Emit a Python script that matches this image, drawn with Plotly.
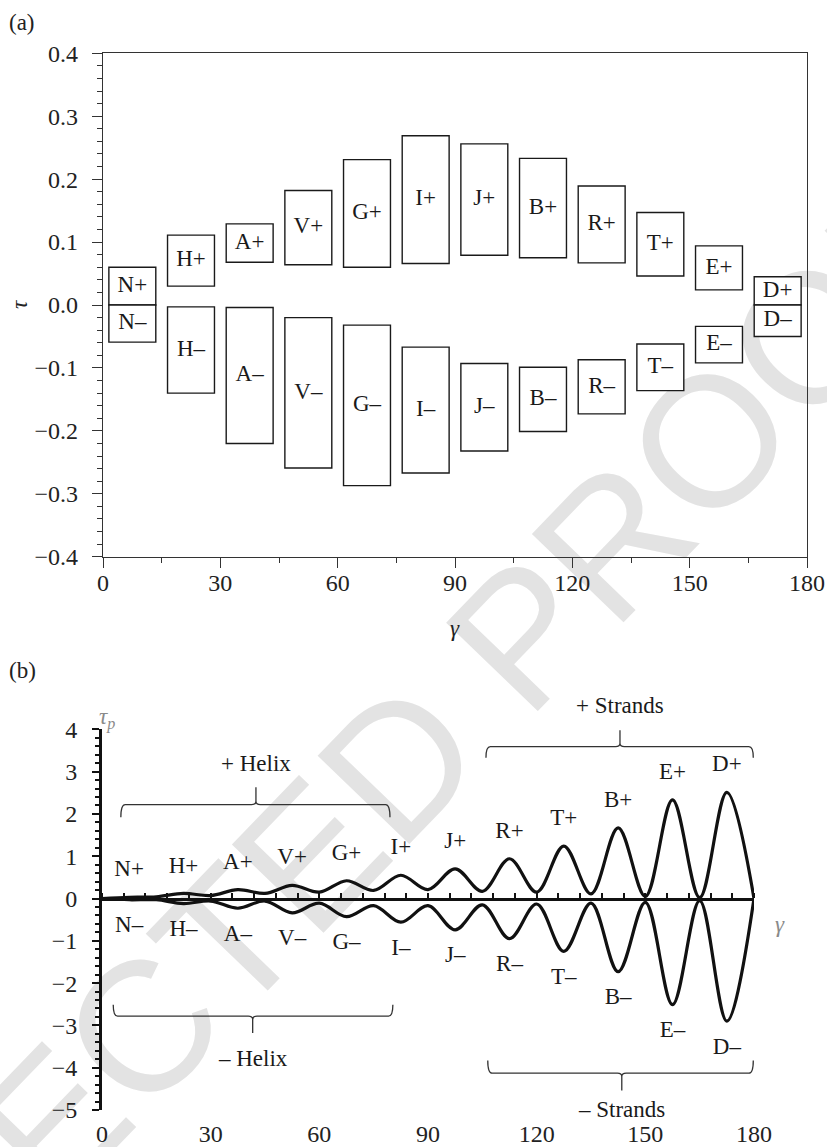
import plotly.graph_objects as go

W, H = 827, 1147

# ---------------- panel (a): tau ranges of each residue, + and - branches
residues = ["N", "H", "A", "V", "G", "I", "J", "B", "R", "T", "E", "D"]
gamma_centre = [7.5, 22.5, 37.5, 52.5, 67.5, 82.5, 97.5, 112.5, 127.5, 142.5, 157.5, 172.5]
plus_top = [0.060, 0.111, 0.129, 0.182, 0.231, 0.269, 0.256, 0.233, 0.189, 0.147, 0.094, 0.045]
plus_bottom = [0.000, 0.030, 0.068, 0.064, 0.060, 0.066, 0.079, 0.075, 0.067, 0.046, 0.024, 0.000]
minus_top = [0.000, -0.003, -0.004, -0.020, -0.032, -0.067, -0.093, -0.099, -0.087, -0.062, -0.034, 0.000]
minus_bottom = [-0.059, -0.140, -0.220, -0.259, -0.287, -0.267, -0.232, -0.201, -0.173, -0.136, -0.092, -0.050]
box_width = 12

# ---------------- panel (b): tau_p along gamma for + and - branches
residues_b = ["N", "H", "A", "V", "G", "I", "J", "R", "T", "B", "E", "D"]
gamma_b = [0, 7.5, 15, 22.5, 30, 37.5, 45, 52.5, 60, 67.5, 75, 82.5, 90,
           97.5, 105, 112.5, 120, 127.5, 135, 142.5, 150, 157.5, 165, 172.5, 180]
tau_p_plus = [0, 0.03, 0.04, 0.12, 0.07, 0.21, 0.12, 0.31, 0.15, 0.42, 0.19, 0.55, 0.21,
              0.70, 0.17, 0.94, 0.15, 1.24, 0.11, 1.67, 0.05, 2.33, 0.02, 2.51, 0.0]
tau_p_minus = [0, -0.03, -0.03, -0.12, -0.06, -0.23, -0.06, -0.34, -0.11, -0.43, -0.17, -0.56, -0.17,
               -0.74, -0.15, -0.95, -0.13, -1.25, -0.11, -1.73, -0.09, -2.51, -0.05, -2.90, 0.0]
label_gap = 0.63

SERIF = "Liberation Serif, Times New Roman, serif"
INK = "#1a1a1a"
FS = 23
TICK_FS = 24


def paper_x(p):
    return p / W


def paper_y(p):
    return 1 - p / H


# subplot placement (pixels)
A_X0, A_X1, A_Y0, A_Y1 = 103, 807, 53.3, 556.7
B_X0, B_X1, B_Y0, B_Y1 = 102, 754, 729.3, 1110
B_RANGE = [-5, 4]

fig = go.Figure()

# boxes of panel (a)
for tops, bots in ((plus_top, plus_bottom), (minus_top, minus_bottom)):
    fig.add_trace(go.Bar(
        x=gamma_centre, y=[t - b for t, b in zip(tops, bots)], base=bots, width=box_width,
        marker=dict(color="white", line=dict(color=INK, width=1.4)),
        xaxis="x", yaxis="y", hoverinfo="skip", showlegend=False))

mid_plus = [(t + b) / 2 for t, b in zip(plus_top, plus_bottom)]
mid_minus = [(t + b) / 2 for t, b in zip(minus_top, minus_bottom)]
fig.add_trace(go.Scatter(
    x=gamma_centre + gamma_centre, y=mid_plus + mid_minus,
    text=[r + "+" for r in residues] + [r + "–" for r in residues],
    mode="text", textfont=dict(family=SERIF, size=FS, color=INK),
    xaxis="x", yaxis="y", hoverinfo="skip", showlegend=False))

# curves of panel (b)
for ys in (tau_p_plus, tau_p_minus):
    fig.add_trace(go.Scatter(
        x=gamma_b, y=ys, mode="lines",
        line=dict(color="#111111", width=3.2, shape="spline"),
        xaxis="x2", yaxis="y2", hoverinfo="skip", showlegend=False))

peak_x = gamma_b[1::2]
fig.add_trace(go.Scatter(
    x=peak_x + peak_x,
    y=[v + label_gap for v in tau_p_plus[1::2]] + [v - label_gap for v in tau_p_minus[1::2]],
    text=[r + "+" for r in residues_b] + [r + "–" for r in residues_b],
    mode="text", textfont=dict(family=SERIF, size=FS, color=INK), cliponaxis=False,
    xaxis="x2", yaxis="y2", hoverinfo="skip", showlegend=False))

# invisible anchor for the zero-line axis
fig.add_trace(go.Scatter(x=[90], y=[0], mode="lines", line=dict(width=0),
                         xaxis="x3", yaxis="y2", hoverinfo="skip", showlegend=False))


def brace(x0, x1, xm, y_line, y_end, y_tip, rx=1.2, ry=0.08):
    up = 1 if y_tip > y_line else -1
    return (f"M {x0},{y_end} Q {x0},{y_line} {x0 + rx},{y_line} "
            f"L {xm - rx},{y_line} Q {xm},{y_line} {xm},{y_line + up * ry} L {xm},{y_tip} "
            f"L {xm},{y_line + up * ry} Q {xm},{y_line} {xm + rx},{y_line} "
            f"L {x1 - rx},{y_line} Q {x1},{y_line} {x1},{y_end}")


braces = [
    ("+ Helix", 5.2, 79.5, 42.5, 2.22, 1.92, 2.63, 3.18),
    ("+ Strands", 106.0, 179.8, 143.0, 3.59, 3.33, 3.98, 4.56),
    ("– Helix", 3.1, 80.3, 41.6, -2.78, -2.51, -3.18, -3.79),
    ("– Strands", 106.5, 179.8, 143.5, -4.13, -3.83, -4.54, -4.98),
]
for name, x0, x1, xm, yl, ye, yt, ytext in braces:
    fig.add_shape(type="path", xref="x2", yref="y2", path=brace(x0, x1, xm, yl, ye, yt),
                  line=dict(color="#333333", width=1.3))

# brace captions, placed through the panel (b) axis scales
bx_scale = (B_X1 - B_X0) / 180.0
by_scale = (B_Y1 - B_Y0) / (B_RANGE[1] - B_RANGE[0])
for name, x0, x1, xm, yl, ye, yt, ytext in braces:
    px = B_X0 + xm * bx_scale
    py = B_Y0 + (B_RANGE[1] - ytext) * by_scale
    fig.add_annotation(text=name, x=paper_x(px), y=paper_y(py), xref="paper", yref="paper",
                       showarrow=False, xanchor="center", yanchor="middle",
                       font=dict(family=SERIF, size=FS, color=INK))

# watermark behind everything
WM_X, WM_Y = 222, 920
fig.add_shape(type="rect", xref="paper", yref="paper",
              x0=paper_x(WM_X - 5), x1=paper_x(WM_X + 5), y0=paper_y(WM_Y + 5), y1=paper_y(WM_Y - 5),
              line=dict(width=0), fillcolor="rgba(0,0,0,0)", layer="below",
              label=dict(text="UNCORRECTED PROOFS", textangle=-46, textposition="middle center",
                         font=dict(family="Liberation Sans, Arial, sans-serif", size=185, color="#e3e3e3")))

tickfont = dict(family=SERIF, size=TICK_FS, color="#222222")
b_dom = [paper_y(B_Y1), paper_y(B_Y0)]
zero_pos = b_dom[0] + (b_dom[1] - b_dom[0]) * (0 - B_RANGE[0]) / (B_RANGE[1] - B_RANGE[0])

fig.update_layout(
    width=W, height=H, margin=dict(l=0, r=0, t=0, b=0, pad=0), autosize=False,
    paper_bgcolor="white", plot_bgcolor="rgba(0,0,0,0)",
    barmode="overlay", showlegend=False,
    xaxis=dict(domain=[paper_x(A_X0), paper_x(A_X1)], anchor="y", range=[0, 180], automargin=False,
               tickvals=[0, 30, 60, 90, 120, 150, 180], ticks="outside", ticklen=10,
               tickwidth=1.3, tickcolor="#333", showline=True, linecolor="#333", linewidth=1.4,
               mirror=True, showgrid=False, zeroline=False, tickfont=tickfont, ticklabelstandoff=-6,
               minor=dict(dtick=15, tick0=0, ticks="outside", ticklen=5, tickwidth=1.3, tickcolor="#333")),
    yaxis=dict(domain=[paper_y(A_Y1), paper_y(A_Y0)], anchor="x", range=[-0.4, 0.4], automargin=False,
               dtick=0.1, tickformat=".1f", ticks="outside", ticklen=10, tickwidth=1.3,
               tickcolor="#333", showline=True, linecolor="#333", linewidth=1.4, mirror=True,
               showgrid=False, zeroline=False, tickfont=tickfont, ticklabelstandoff=9,
               minor=dict(dtick=0.02, tick0=0, ticks="outside", ticklen=5, tickwidth=1.3, tickcolor="#333")),
    xaxis2=dict(domain=[paper_x(B_X0), paper_x(B_X1)], anchor="y2", range=[0, 180], automargin=False,
                tickvals=[0, 30, 60, 90, 120, 150, 180], ticks="", ticklabelstandoff=7,
                showline=False, showgrid=False, zeroline=False, tickfont=tickfont),
    yaxis2=dict(domain=b_dom, anchor="x2", range=B_RANGE, dtick=1, ticks="outside", automargin=False,
                ticklen=7, tickwidth=2, tickcolor="#111", showline=True, linecolor="#111",
                linewidth=3, showgrid=False, zeroline=False, tickfont=tickfont,
                ticklabelstandoff=10,
                minor=dict(dtick=0.2, tick0=0, ticks="outside", ticklen=4, tickwidth=1.5, tickcolor="#111")),
    xaxis3=dict(domain=[paper_x(B_X0), paper_x(B_X1)], overlaying="x2", anchor="free", automargin=False,
                position=zero_pos, side="top", range=[0, 180], dtick=6, tick0=0,
                ticks="outside", ticklen=5, tickwidth=2, tickcolor="#111", showline=True,
                linecolor="#111", linewidth=3, showticklabels=False, showgrid=False, zeroline=False),
)

notes = [
    ("(a)", 22, 23, 0, "#222222"),
    ("<i>τ</i>", 20, 305, -90, "#222222"),
    ("<i>γ</i>", 455, 628, 0, "#222222"),
    ("(b)", 22, 670, 0, "#222222"),
    ("<i>τ</i><sub><i>p</i></sub>", 107, 718, 0, "#8a8a8a"),
    ("<i>γ</i>", 780, 924, 0, "#8a8a8a"),
]
for txt, px, py, ang, col in notes:
    fig.add_annotation(text=txt, x=paper_x(px), y=paper_y(py), xref="paper", yref="paper",
                       showarrow=False, textangle=ang, xanchor="center", yanchor="middle",
                       font=dict(family=SERIF, size=FS, color=col))

fig.write_html("out.html")
